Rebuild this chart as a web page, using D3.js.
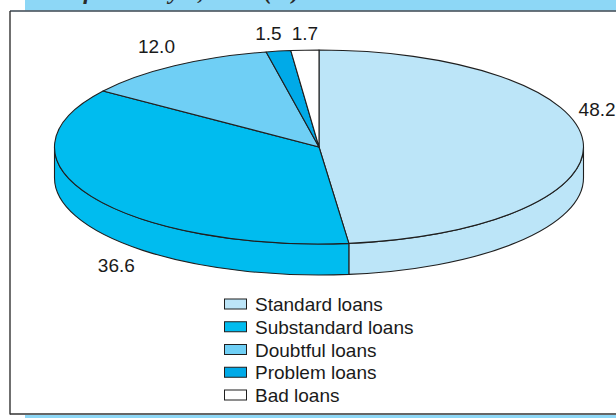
<!DOCTYPE html>
<html>
<head>
<meta charset="utf-8">
<script src="https://cdn.jsdelivr.net/npm/d3@7/dist/d3.min.js"></script>
<style>
  html, body { margin: 0; padding: 0; background: #fff; }
  svg { display: block; }
  text { font-family: "Liberation Sans", Arial, Helvetica, sans-serif; fill: #1a1a1a; }
</style>
</head>
<body>
<svg id="chart" width="616" height="418"></svg>
<script>
// Loan portfolio by quality category, percent
const categories = ["Standard loans", "Substandard loans", "Doubtful loans", "Problem loans", "Bad loans"];
const shares = [48.2, 36.6, 12.0, 1.5, 1.7];
const valueLabels = ["48.2", "36.6", "12.0", "1.5", "1.7"];
const titleText = "as of January 1, 2006 (%)";

const colors = ["#bce5f8", "#00bcef", "#6fcff5", "#00aae8", "#ffffff"];
const stroke = "#1f1f1f";

const W = 616, H = 418;
const svg = d3.select("#chart");

// header band (title runs above the top edge) and frame
svg.append("rect").attr("x", 25).attr("y", 0).attr("width", W - 25).attr("height", 10.5).attr("fill", "#8dd7f6");
svg.append("text").attr("x", 44).attr("y", -1)
  .style("font-family", "'Liberation Serif', 'Times New Roman', serif")
  .style("font-weight", "bold").style("font-style", "italic").style("font-size", "24px")
  .style("fill", "#2a2a2a")
  .text(titleText);
svg.append("line").attr("x1", 10).attr("x2", W).attr("y1", 11).attr("y2", 11)
  .attr("stroke", "#3a4650").attr("stroke-width", 1.6);
svg.append("line").attr("x1", 10).attr("x2", 10).attr("y1", 11).attr("y2", 414.5)
  .attr("stroke", "#333").attr("stroke-width", 1.4);
svg.append("line").attr("x1", 10).attr("x2", W).attr("y1", 414).attr("y2", 414)
  .attr("stroke", "#333").attr("stroke-width", 1.6);
svg.append("rect").attr("x", 25).attr("y", 415).attr("width", W - 25).attr("height", 3).attr("fill", "#8dd7f6");

// 3D pie geometry
const cx = 319, cy = 147, rx = 264.5, ry = 97, depth = 31;
const pt = (a, dy = 0) => [cx + rx * Math.sin(a), cy - ry * Math.cos(a) + dy];

const pie = d3.pie().sort(null).value(d => d.v).startAngle(0).endAngle(2 * Math.PI);
const arcs = pie(shares.map((v, i) => ({ v, i })));

function topPath(a0, a1) {
  const p0 = pt(a0), p1 = pt(a1);
  const large = (a1 - a0) > Math.PI ? 1 : 0;
  return `M${cx},${cy}L${p0[0]},${p0[1]}A${rx},${ry} 0 ${large} 1 ${p1[0]},${p1[1]}Z`;
}
function sidePath(a0, a1) {
  const p0 = pt(a0), p1 = pt(a1), q1 = pt(a1, depth), q0 = pt(a0, depth);
  const large = (a1 - a0) > Math.PI ? 1 : 0;
  return `M${p0[0]},${p0[1]}A${rx},${ry} 0 ${large} 1 ${p1[0]},${p1[1]}` +
         `L${q1[0]},${q1[1]}A${rx},${ry} 0 ${large} 0 ${q0[0]},${q0[1]}Z`;
}

const gSide = svg.append("g");
const gTop = svg.append("g");

// side walls: only the front half (angles between 90° and 270°) is visible
arcs.forEach(d => {
  const a0 = Math.max(d.startAngle, Math.PI / 2);
  const a1 = Math.min(d.endAngle, 3 * Math.PI / 2);
  if (a1 > a0) {
    gSide.append("path").attr("d", sidePath(a0, a1))
      .attr("fill", colors[d.data.i]).attr("stroke", stroke)
      .attr("stroke-width", 1.1).attr("stroke-linejoin", "round");
  }
});

gTop.selectAll("path").data(arcs).join("path")
  .attr("d", d => topPath(d.startAngle, d.endAngle))
  .attr("fill", d => colors[d.data.i])
  .attr("stroke", stroke).attr("stroke-width", 1.1).attr("stroke-linejoin", "round");

// value labels, placed from each slice's mid-angle with a layout nudge
const labelNudge = [[14, -26], [25, 76], [-18, -13], [-10, -11], [0, -10]];
svg.append("g").selectAll("text").data(arcs).join("text")
  .attr("x", d => pt((d.startAngle + d.endAngle) / 2)[0] + labelNudge[d.data.i][0])
  .attr("y", d => pt((d.startAngle + d.endAngle) / 2)[1] + labelNudge[d.data.i][1])
  .attr("text-anchor", "middle")
  .style("font-size", "19px")
  .text(d => valueLabels[d.data.i]);

// legend
const rowY = d3.scalePoint().domain(categories).range([304, 395]);
const legend = svg.append("g").selectAll("g").data(categories).join("g")
  .attr("transform", d => `translate(0,${rowY(d)})`);
legend.append("rect").attr("x", 224.5).attr("y", -5).attr("width", 22).attr("height", 10)
  .attr("fill", (d, i) => colors[i]).attr("stroke", stroke).attr("stroke-width", 1);
legend.append("text").attr("x", 255).attr("y", 7)
  .style("font-size", "19px")
  .text(d => d);
</script>
</body>
</html>
